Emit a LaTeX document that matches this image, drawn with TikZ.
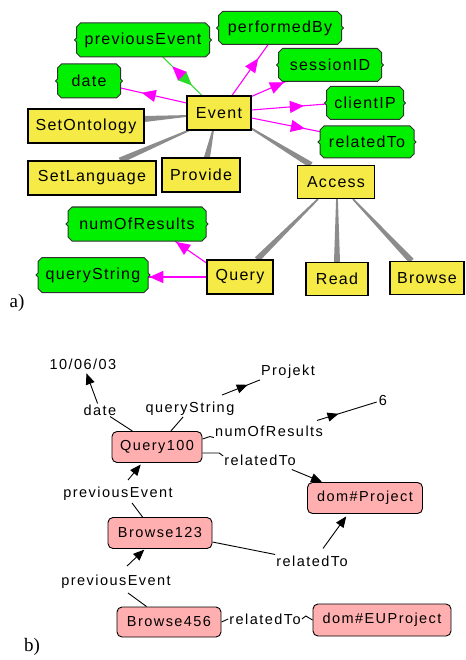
\documentclass[tikz,border=0pt]{standalone}
\usepackage{fontspec}
\setmainfont{Liberation Serif}
\newfontfamily\fa[LetterSpace=8]{Liberation Sans}
\newfontfamily\fb[LetterSpace=10]{Liberation Sans}
\usetikzlibrary{arrows.meta,calc,decorations.markings,backgrounds}

\definecolor{ygold}{RGB}{245,234,70}
\definecolor{ggreen}{RGB}{0,240,0}
\definecolor{gline}{RGB}{40,220,40}
\definecolor{gborder}{RGB}{50,50,50}
\definecolor{mag}{RGB}{255,0,255}
\definecolor{taperc}{RGB}{140,140,140}
\definecolor{pinkb}{RGB}{255,175,175}

\tikzset{
  ybox/.style={draw=black, line width=1.1pt, fill=ygold, inner sep=0pt, font=\fa\fontsize{16}{18}\selectfont},
  gtext/.style={inner sep=0pt, font=\fa\fontsize{16}{18}\selectfont},
  pbox/.style={draw=black, line width=0.9pt, fill=pinkb, rounded corners=5pt, inner sep=0pt, font=\fb\fontsize{14.5}{16}\selectfont},
  lbl/.style={inner sep=1pt, font=\fb\fontsize{14.5}{16}\selectfont},
  plabel/.style={inner sep=0pt, font=\fontsize{19}{22}\selectfont},
  magline/.style={mag, line width=1.1pt},
  bline/.style={black, line width=0.9pt},
  barr/.style={black, line width=0.9pt, -{Triangle[length=11pt,width=9pt]}},
  marr/.style={postaction={decorate}, decoration={markings, mark=at position #1 with {\arrow{Triangle[length=14pt,width=12pt]}}}},
  mbarr/.style={postaction={decorate}, decoration={markings, mark=at position #1 with {\arrow{Triangle[length=11pt,width=9pt]}}}},
}

\newcommand\gbox[6]{%
  \filldraw[fill=ggreen, draw=gborder, line width=1pt]
    ({#2-#4/2+4},{#3-#5/2}) -- ({#2+#4/2-4},{#3-#5/2}) -- ({#2+#4/2},{#3-#5/2+4}) --
    ({#2+#4/2},{#3-2}) -- ({#2+#4/2+2},{#3}) -- ({#2+#4/2},{#3+2}) --
    ({#2+#4/2},{#3+#5/2-4}) -- ({#2+#4/2-4},{#3+#5/2}) -- ({#2-#4/2+4},{#3+#5/2}) --
    ({#2-#4/2},{#3+#5/2-4}) -- ({#2-#4/2},{#3+2}) -- ({#2-#4/2-2},{#3}) --
    ({#2-#4/2},{#3-2}) -- ({#2-#4/2},{#3-#5/2+4}) -- cycle;
  \node[gtext, minimum width=#4, minimum height=#5] (#1) at (#2,#3) {#6};
}

\newcommand\taper[2]{%
  \fill[taperc] ($(#1)!0.9pt!90:(#2)$) -- ($(#2)!3pt!-90:(#1)$) -- ($(#2)!3pt!90:(#1)$) -- ($(#1)!0.9pt!-90:(#2)$) -- cycle;
}

\begin{document}
\begin{tikzpicture}[x=1pt,y=-1pt]
\useasboundingbox (0,0) rectangle (465,660);
\begin{scope}[on background layer]
  \fill[white] (0,0) rectangle (465,660);
\end{scope}

% ---------- part a: nodes ----------
\gbox{prevEv}{143}{40}{133}{34}{previousEvent}
\gbox{date}{89}{81}{63}{34}{date}
\gbox{perfBy}{280}{28}{123}{33}{performedBy}
\gbox{sessID}{330}{65}{103}{33}{sessionID}
\gbox{clientIP}{365}{103}{77}{33}{clientIP}
\gbox{relTo}{367}{142}{94}{32}{relatedTo}
\gbox{numRes}{137}{224}{138}{34}{numOfResults}
\gbox{qStr}{93}{275}{110}{35}{queryString}

\node[ybox, minimum width=116, minimum height=34] (SetOnt) at (86,126) {SetOntology};
\node[ybox, minimum width=64, minimum height=34] (Event) at (219,113) {Event};
\node[ybox, minimum width=128, minimum height=34] (SetLang) at (92,178) {SetLanguage};
\node[ybox, minimum width=78, minimum height=34] (Provide) at (201,175) {Provide};
\node[ybox, minimum width=77, minimum height=33] (Access) at (336,182) {Access};
\node[ybox, minimum width=66, minimum height=34] (Query) at (240,277) {Query};
\node[ybox, minimum width=62, minimum height=33] (Read) at (337,279) {Read};
\node[ybox, minimum width=74, minimum height=33] (Browse) at (427,278) {Browse};

\node[plabel] (la) at (17,303) {a)};

% ---------- part a: edges ----------
\coordinate (t1a) at ($(Event.west)+(0,3)$);
\coordinate (t1b) at ($(SetOnt.east)+(0,-7)$);
\coordinate (t2a) at ($(Event.south west)+(2,0)$);
\coordinate (t2b) at ($(SetLang.north)+(28,0)$);
\coordinate (t3a) at ($(Event.south)+(-6,0)$);
\coordinate (t3b) at ($(Provide.north)+(6,0)$);
\coordinate (t4a) at ($(Event.south east)+(0,-2)$);
\coordinate (t4b) at ($(Access.north west)+(14,0)$);
\coordinate (t5a) at ($(Access.south)+(-18,0)$);
\coordinate (t5b) at ($(Query.north)+(17,0)$);
\coordinate (t6a) at ($(Access.south)+(1,0)$);
\coordinate (t6b) at (Read.north);
\coordinate (t7a) at ($(Access.south)+(17,0)$);
\coordinate (t7b) at ($(Browse.north west)+(22,0)$);

\begin{scope}[on background layer]
  \taper{t1a}{t1b}
  \taper{t2a}{t2b}
  \taper{t3a}{t3b}
  \taper{t4a}{t4b}
  \taper{t5a}{t5b}
  \taper{t6a}{t6b}
  \taper{t7a}{t7b}

  \draw[magline, marr=0.68] ($(Event.west)+(0,-10)$) -- ($(date.east)+(0,7)$);
  \draw[magline, marr=0.73] ($(Event.north)+(13,0)$) -- ($(perfBy.south)+(-12,0)$);
  \draw[magline, marr=0.96] ($(Event.north east)+(0,1)$) -- ($(sessID.south west)+(7,0)$);
  \draw[magline, marr=0.7] ($(Event.east)+(0,-3)$) -- ($(clientIP.west)+(0,1)$);
  \draw[magline, marr=0.76] ($(Event.east)+(0,5)$) -- ($(relTo.west)+(2,-10)$);
  \draw[magline, marr=0.97] ($(Query.west)+(0,-14)$) -- ($(numRes.south)+(38,0)$);
  \draw[magline, marr=0.98] (Query.west) -- ($(qStr.east)+(0,2)$);

  \draw[gline, line width=1pt, marr=0.74] ($(prevEv.south)+(20,0)$) -- ($(Event.north)+(-17,0)$);
  \path[mag, marr=0.76] ($(Event.north)+(-17,0)$) -- ($(prevEv.south)+(20,0)$);
\end{scope}

% ---------- part b: nodes ----------
\node[pbox, minimum width=90, minimum height=31] (Query100) at (157,447) {Query100};
\node[pbox, minimum width=104, minimum height=31] (Browse123) at (160,533) {Browse123};
\node[pbox, minimum width=104, minimum height=30] (Browse456) at (169,622) {Browse456};
\node[pbox, minimum width=115, minimum height=31] (domProject) at (365,498) {dom\#Project};
\node[pbox, minimum width=138, minimum height=32] (domEUProject) at (382,620) {dom\#EUProject};

\node[lbl] (t10) at (83,364) {10/06/03};
\node[lbl] (Projekt) at (288,372) {Projekt};
\node[lbl] (six) at (383,401) {6};
\node[lbl] (lDate) at (100,410) {date};
\node[lbl] (lQS) at (190,409) {queryString};
\node[lbl] (lNum) at (269,431) {numOfResults};
\node[lbl] (lRel1) at (260,460) {relatedTo};
\node[lbl] (lPrev1) at (118,494) {previousEvent};
\node[lbl] (lRel2) at (312,561) {relatedTo};
\node[lbl] (lPrev2) at (116,582) {previousEvent};
\node[lbl] (lRel3) at (265,619) {relatedTo};

\node[plabel] (lb) at (32,647) {b)};

% ---------- part b: edges ----------
\begin{scope}[on background layer]
  \draw[bline] (Query100) -- (lDate);
  \draw[barr, shorten >=3pt] (lDate) -- (t10);
  \draw[bline] (Query100) -- (lQS);
  \draw[bline, mbarr=0.68] ($(lQS.north)+(32,-6)$) -- (Projekt.south west);
  \draw[bline] ($(Query100.east)+(0,-8)$) -- ($(lNum.south west)+(-4,-1)$) -- (lNum.south west);
  \draw[bline, mbarr=0.36] ($(lNum.north)+(48,-4)$) -- ($(six.west)+(-1,1)$);
  \draw[bline] ($(Query100.east)+(0,6)$) -- ($(lRel1.west)+(-4,-7)$) -- ($(lRel1.west)+(0,-4)$);
  \draw[barr] ($(lRel1.south east)+(-5,3)$) -- ($(domProject.north west)+(15,0)$);
  \draw[barr, shorten >=2pt] ($(lPrev1.north)+(10,-6)$) -- ($(Query100.south)+(-15,0)$);
  \draw[bline] ($(lPrev1.south)+(14,1)$) -- ($(Browse123.north west)+(35,0)$);
  \draw[bline] ($(Browse123.east)+(0,9)$) -- (lRel2.north west);
  \draw[barr, shorten >=3pt] ($(lRel2.north)+(11,-6)$) -- ($(domProject.south)+(-17,0)$);
  \draw[barr, shorten >=1pt] ($(lPrev2.north)+(11,-8)$) -- ($(Browse123.south)+(-15,0)$);
  \draw[bline] ($(lPrev2.south)+(12,3)$) -- ($(Browse456.north west)+(30,0)$);
  \draw[bline] (Browse456.east) -- (lRel3.west);
  \draw[bline] (lRel3.east) -- ++(4,-3) -- (domEUProject.west);
\end{scope}
\end{tikzpicture}
\end{document}
